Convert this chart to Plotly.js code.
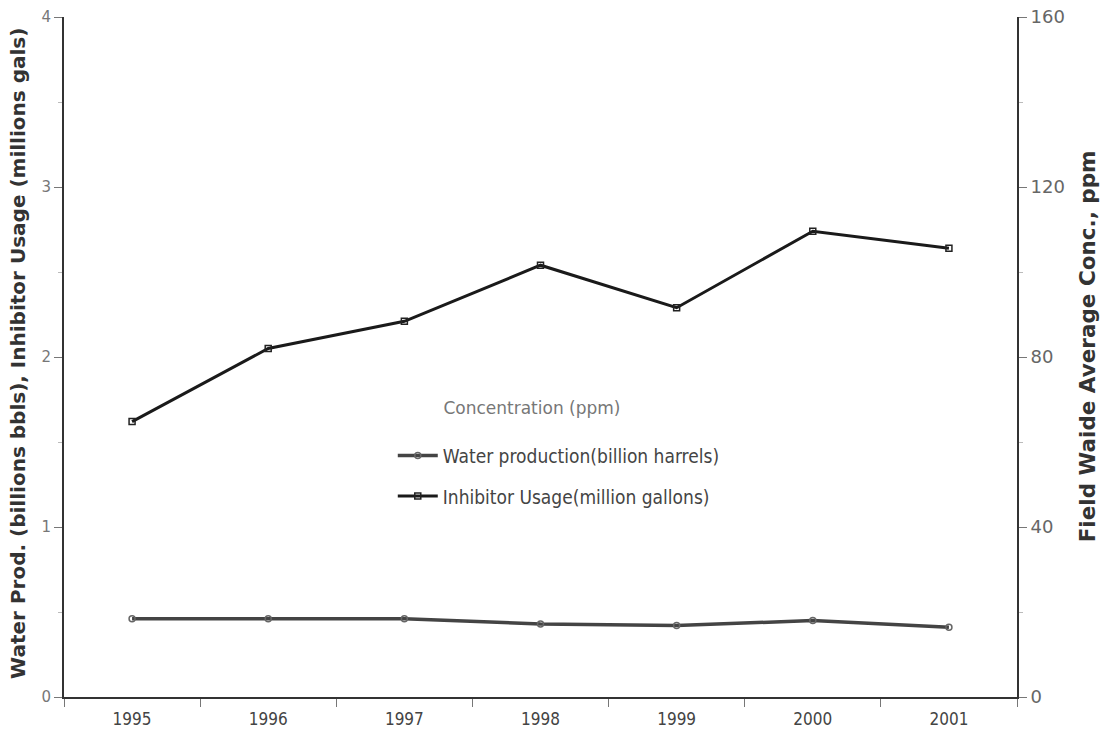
<!DOCTYPE html>
<html>
<head>
<meta charset="utf-8">
<script src="https://cdn.plot.ly/plotly-3.0.1.min.js"></script>
<style>html,body{margin:0;padding:0;background:#fff;}#chart{width:1100px;height:737px;}</style>
</head>
<body>
<div id="chart"></div>
<script>
const years = ["1995", "1996", "1997", "1998", "1999", "2000", "2001"];
const inhibitorUsage = [1.62, 2.05, 2.21, 2.54, 2.29, 2.74, 2.64];
const waterProduction = [0.46, 0.46, 0.46, 0.43, 0.42, 0.45, 0.41];
const concentration = [];
const leftTicks = [0, 1, 2, 3, 4];
const rightTicks = [0, 40, 80, 120, 160];
const concentrationLabel = 'Concentration (ppm)';

const narrow = '"Liberation Sans Narrow", "DejaVu Sans Condensed", sans-serif';
const wide = '"DejaVu Sans", "Liberation Sans", sans-serif';
const cond = '"DejaVu Sans Condensed", "DejaVu Sans", sans-serif';
const pad = '\u00A0'.repeat(9);

const traces = [
  {
    x: years.slice(0, concentration.length), y: concentration, yaxis: 'y2', type: 'scatter', mode: 'lines',
    name: concentrationLabel, showlegend: false,
    line: {color: 'rgba(0,0,0,0)', width: 0}
  },
  {
    x: years, y: waterProduction, type: 'scatter', mode: 'lines+markers',
    name: 'Water production(billion harrels)', legendgroup: 'w',
    line: {color: '#444', width: 3.5},
    marker: {symbol: 'circle-open', size: 6, color: '#666', line: {width: 1.5}}
  },
  {
    x: years, y: inhibitorUsage, type: 'scatter', mode: 'lines+markers',
    name: 'Inhibitor Usage(million gallons)', legendgroup: 'i',
    line: {color: '#1a1a1a', width: 3},
    marker: {symbol: 'square-open', size: 6, color: '#222', line: {width: 1.5}}
  }
];

const layout = {
  width: 1100, height: 737,
  margin: {l: 64, r: 83, t: 17, b: 40},
  paper_bgcolor: '#fff', plot_bgcolor: '#fff',
  font: {family: wide, color: '#555', size: 14},
  showlegend: true,
  legend: {
    x: 0.345, y: 0.448, xanchor: 'left', yanchor: 'top',
    bgcolor: 'rgba(0,0,0,0)', traceorder: 'grouped', tracegroupgap: 13, itemwidth: 40,
    font: {family: cond, size: 19, color: '#444'},
    title: {text: pad + concentrationLabel + '<br> ', side: 'top', font: {family: wide, size: 17, color: '#777'}}
  },
  xaxis: {
    type: 'category', range: [-0.5, 6.5],
    showline: true, linecolor: '#333', linewidth: 2,
    ticks: 'outside', tickson: 'boundaries', ticklen: 8, tickcolor: '#777', tickwidth: 1,
    ticklabelstandoff: 6,
    showgrid: false, zeroline: false,
    tickfont: {size: 17, color: '#444', family: narrow}
  },
  yaxis: {
    range: [0, 4], tickvals: leftTicks, ticktext: leftTicks.map(String),
    showline: true, linecolor: '#333', linewidth: 2,
    ticks: 'outside', ticklen: 8, tickcolor: '#777', tickwidth: 1,
    minor: {dtick: 0.5, ticks: 'outside', ticklen: 4, tickcolor: '#bbb', showgrid: false},
    showgrid: false, zeroline: false,
    tickfont: {size: 15, color: '#777', family: wide}
  },
  yaxis2: {
    range: [0, 160], tickvals: rightTicks, ticktext: rightTicks.map(String),
    overlaying: 'y', side: 'right',
    showline: true, linecolor: '#333', linewidth: 2,
    ticks: 'outside', ticklen: 8, tickcolor: '#777', tickwidth: 1,
    minor: {dtick: 20, ticks: 'outside', ticklen: 4, tickcolor: '#bbb', showgrid: false},
    showgrid: false, zeroline: false,
    tickfont: {size: 18, color: '#666', family: wide}
  },
  annotations: [
    {
      text: '<b>Water Prod. (billions bbls), Inhibitor Usage (millions gals)</b>',
      xref: 'paper', yref: 'paper', x: -0.049, y: 0.505, xanchor: 'center', yanchor: 'middle',
      textangle: -90, showarrow: false,
      font: {family: wide, size: 20, color: '#333'}
    },
    {
      text: '<b>Field Waide Average Conc., ppm</b>',
      xref: 'paper', yref: 'paper', x: 1.074, y: 0.515, xanchor: 'center', yanchor: 'middle',
      textangle: -90, showarrow: false,
      font: {family: wide, size: 21.5, color: '#333'}
    }
  ]
};

Plotly.newPlot('chart', traces, layout, {displayModeBar: false, staticPlot: true});
</script>
</body>
</html>
